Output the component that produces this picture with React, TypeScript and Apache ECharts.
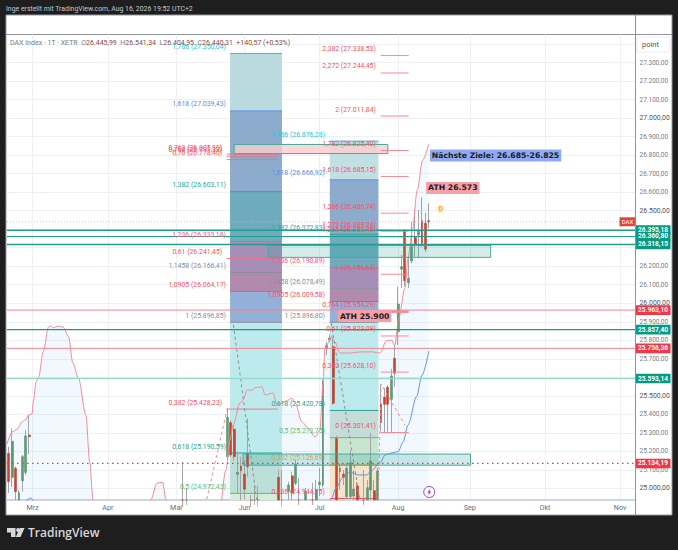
import React, { useEffect, useRef } from "react";
import * as echarts from "echarts";

const FONT = "Roboto";
const RED = "#f7525f";
const BAR_COUNT = 184;

const monthIndex = [7, 29, 49, 69, 91, 114, 135, 157, 179];
const monthLabels = ["Mrz", "Apr", "Mai", "Jun", "Jul", "Aug", "Sep", "Okt", "Nov"];
const priceGrid = [25000, 25100, 25200, 25300, 25400, 25500, 25600, 25700, 25800, 25900, 26000, 26100, 26200, 26300, 26400, 26500, 26600, 26700, 26800, 26900, 27000, 27100, 27200, 27300, 27400];
const priceLabels = [25000, 25100, 25200, 25300, 25400, 25500, 25700, 25800, 25900, 26000, 26100, 26200, 26500, 26600, 26700, 26800, 26900, 27000, 27100, 27200, 27300];
const majorPrices = [25000, 25500, 26000, 26500, 27000];

// [bar index, open, close, low, high]
const candles: number[][] = [
  [0, 25189, 25036, 24974, 25225], [1, 25059, 25254, 25007, 25324], [2, 25108, 24982, 24930, 25117],
  [3, 24900, 24976, 24880, 24990], [4, 25041, 25171, 24982, 25180], [5, 25086, 25283, 25072, 25315],
  [6, 25288, 25279, 25184, 25396], [51, 24900, 24880, 24860, 25144], [52, 24910, 24890, 24860, 25002],
  [64, 25171, 25384, 25153, 25434], [65, 25355, 25180, 25170, 25369], [66, 25319, 25171, 25150, 25340],
  [67, 25076, 25087, 24975, 25198], [68, 25121, 25095, 24930, 25171], [69, 25077, 24995, 24940, 25153],
  [70, 25189, 25117, 25063, 25378], [71, 24900, 24880, 24860, 24964], [72, 24910, 24890, 24860, 25018],
  [73, 24900, 24880, 24860, 25012], [79, 25059, 24890, 24870, 25099], [80, 24900, 24880, 24860, 25099],
  [82, 24982, 25018, 24930, 25036], [83, 25067, 24976, 24930, 25090], [84, 25027, 25131, 25018, 25153],
  [85, 24910, 24900, 24860, 25056], [87, 24900, 24982, 24880, 25002], [89, 24910, 24890, 24870, 25029],
  [90, 24900, 24991, 24880, 25045], [91, 25019, 25034, 24958, 25110], [92, 25018, 25576, 25005, 25590],
  [93, 25753, 25774, 25720, 25790], [94, 25802, 25812, 25790, 25830], [95, 25765, 25459, 25450, 25819],
  [96, 25270, 24890, 24870, 25285], [97, 25090, 25110, 24991, 25135], [98, 25077, 25059, 25018, 25099],
  [99, 24955, 25108, 24940, 25136], [100, 24955, 25138, 24940, 25207], [101, 24958, 24996, 24930, 25099],
  [102, 25012, 24890, 24870, 25034], [104, 24910, 24890, 24870, 25099], [105, 24900, 25003, 24880, 25045],
  [106, 24991, 25148, 24930, 25299], [107, 24987, 24890, 24870, 25045], [108, 24900, 25094, 24880, 25110],
  [109, 25454, 25355, 25310, 25560], [110, 25492, 25454, 25303, 25542], [111, 25546, 25454, 25306, 25558],
  [112, 25481, 25607, 25303, 25645], [113, 25703, 25622, 25549, 25775], [114, 25846, 25996, 25775, 26090],
  [115, 26184, 26198, 26083, 26261], [116, 26392, 26122, 26090, 26401], [117, 26111, 26135, 26083, 26252],
  [118, 26228, 26315, 26216, 26441], [119, 26356, 26315, 26252, 26504], [120, 26369, 26389, 26243, 26504],
  [121, 26446, 26324, 26306, 26573], [122, 26432, 26292, 26278, 26488], [123, 26445.99, 26440.31, 26404.95, 26541.34],
];

const redCurve: number[][] = [
  [-0.5, 25239], [1, 25304], [2.5, 25320], [3.9, 25360], [4.9, 25369], [5.8, 25396], [6.8, 25401], [7.3, 25477],
  [8, 25576], [8.8, 25603], [10.1, 25738], [11.7, 25873], [12.2, 25877], [13.1, 25868], [14.5, 25877], [16, 25870],
  [17.5, 25819], [18.8, 25677], [20.4, 25596], [22.6, 25396], [23.7, 25144], [24.7, 24937], [25.5, 24750], [40, 24750],
  [41.7, 24942], [43.4, 25029], [45.1, 25032], [46, 24942], [47.5, 24750], [61, 24750], [63.6, 25099], [64.8, 25261],
  [65.7, 25342], [67.7, 25461], [68.6, 25477], [69.8, 25531], [71.3, 25531], [72.1, 25544], [74.1, 25549], [75.1, 25504],
  [77.4, 25515], [78.5, 25450], [81.4, 25472], [82.9, 25488], [83.9, 25461], [85.8, 25360], [87.6, 25326], [89.7, 25277],
  [91.1, 25315], [92, 25558], [92.6, 25758], [94.6, 25819], [95.5, 25791], [97, 25731], [99.9, 25731], [102.8, 25737],
  [106.6, 25737], [108.7, 25730], [110.6, 25798], [112.1, 25801], [113, 25771], [114.2, 25920], [116, 26082], [116.9, 26245],
  [118.2, 26396], [119.6, 26612], [121.2, 26774], [123, 26861],
];

const blueCurve: number[][] = [
  [-0.5, 24800], [4.5, 24900], [5.8, 24944], [6.5, 24948], [7.3, 24930], [8, 24800], [92.9, 24800], [94.6, 24948],
  [95.8, 25002], [97.9, 25061], [99.9, 25088], [102.3, 25072], [104.9, 25072], [105.8, 25088], [108.7, 25137], [110.2, 25180],
  [112.5, 25192], [114, 25198], [115.5, 25252], [116.9, 25342], [119.4, 25495], [121, 25612], [123, 25742],
];

const trendRed: number[][][] = [
  [[58, 24942], [63.9, 25423]],
  [[108.2, 24937], [109, 25564], [116, 25342]],
];
const trendGrey: number[][][] = [
  [[65.8, 25883], [72.6, 24937]],
  [[94.4, 25893], [102.8, 24937]],
];

const fibAPrices = [27350.04, 27039.43, 26603.11, 26333.18, 26166.41, 26064.17, 25896.85, 25190.59, 24972.43];
const fibALabels = ["1,786 (27.350,04)", "1,618 (27.039,43)", "1,382 (26.603,11)", "1,236 (26.333,18)", "1,1458 (26.166,41)", "1,0905 (26.064,17)", "1 (25.896,85)", "0,618 (25.190,59)", "0,5 (24.972,43)"];
const fibAColors = ["#26c6da", "#5b8ee6", "#26a69a", "#ef5b85", "#8a8d96", "#f7525f", "#8a8d96", "#1fa58f", "#66bb6a"];
const fibAFills = ["#b9dbdf", "#8dabcd", "#6eabbd", "#a58fb9", "#b18bae", "#93b1d8", "#bdebed", "#bcdfd8", "#d5ecd8"];

const fibBPrices = [26876.28, 26666.92, 26372.83, 26190.89, 26078.49, 26009.58, 25896.8, 25420.78, 25273.75, 25126.69, 24944.75];
const fibBLabels = ["1,786 (26.876,28)", "1,618 (26.666,92)", "1,382 (26.372,83)", "1,236 (26.190,89)", "1,1458 (26.078,49)", "1,0905 (26.009,58)", "1 (25.896,80)", "0,618 (25.420,78)", "0,5 (25.273,75)", "0,382 (25.126,69)", "0,236 (24.944,75)"];
const fibBColors = ["#26c6da", "#5b8ee6", "#26a69a", "#ef5b85", "#8a8d96", "#f7525f", "#8a8d96", "#1fa58f", "#66bb6a", "#d9a63a", "#f7525f"];
const fibBFills = ["#c2e0e3", "#8dabcd", "#6eabbd", "#a58fb9", "#b18bae", "#93b1d8", "#bdebed", "#c5dcd8", "#c8e5d0", "#f5e3cc", "#f5e3cc"];

const fibCPrices = [27338.53, 27244.45, 27011.84, 26825.4, 26685.15, 26486.74, 26389.24, 26358.45, 26156.62, 25954.29, 25823.09, 25628.1, 25301.41];
const fibCLabels = ["2,382 (27.338,53)", "2,272 (27.244,45)", "2 (27.011,84)", "1,782 (26.825,40)", "1,618 (26.685,15)", "1,386 (26.486,74)", "1,272 (26.389,24)", "1,236 (26.358,45)", "1 (26.156,62)", "0,764 (25.954,29)", "0,61 (25.823,09)", "0,382 (25.628,10)", "0 (25.301,41)"];
const fibDPrices = [26805.9, 26791.32, 26776.4, 26241.45, 25428.23];
const fibDLabels = ["0,768 (26.805,90)", "0,764 (26.791,32)", "0,76 (26.778,40)", "0,61 (26.241,45)", "0,382 (25.428,23)"];

const levelPrices = [26395.18, 26360.8, 26318.15, 25963.1, 25857.4, 25756.36, 25593.14, 25134.19];
const levelLabels = ["26.395,18", "26.360,80", "26.318,15", "25.963,10", "25.857,40", "25.756,36", "25.593,14", "25.134,19"];
const levelColors = ["#1f9f8b", "#1f9f8b", "#1f9f8b", "#f7808a", "#159a84", "#f7808a", "#98d9ce", "#f23645"];
const levelTagColors = ["#089981", "#089981", "#089981", "#f23645", "#089981", "#f23645", "#089981", "#f23645"];
const levelWidths = [1.5, 1.1, 1.5, 1, 1.2, 1, 1.5, 1.3];
const lastPrice = 26440.31;

const boxPrices: number[][] = [[26858, 26809], [26312, 26248], [25185, 25125]];
const boxBars: number[][] = [[66, 111], [76, 141.1], [68.6, 135.2]];
const boxFills = ["rgba(252,205,205,0.8)", "rgba(38,166,154,0.2)", "rgba(38,166,154,0.22)"];

const priceMin = 24936.7;
const priceMax = 27452.4;

const hLine = (api: any, x0: number, x1: number, p: number, stroke: string, lineWidth = 1, lineDash?: number[]) => {
  const a = api.coord([x0, p]);
  const b = api.coord([x1, p]);
  return { type: "line", shape: { x1: a[0], y1: a[1], x2: b[0], y2: a[1] }, style: { stroke, lineWidth, lineDash } };
};
const zone = (api: any, x0: number, x1: number, p0: number, p1: number, fill: string, stroke?: string) => {
  const a = api.coord([x0, p0]);
  const b = api.coord([x1, p1]);
  return { type: "rect", shape: { x: a[0], y: a[1], width: b[0] - a[0], height: b[1] - a[1] }, style: { fill, stroke, lineWidth: stroke ? 1 : 0 } };
};
const label = (api: any, x: number, p: number, text: string, fill: string, dy = -6.5, align = "right") => {
  const a = api.coord([x, p]);
  return { type: "text", x: a[0], y: a[1] + dy, style: { text, fill, fontSize: 6.9, fontFamily: FONT, align, verticalAlign: "middle" } };
};
const note = (api: any, x: number, p: number, text: string, backgroundColor: string, fontSize: number) => {
  const a = api.coord([x, p]);
  return {
    type: "text", x: a[0], y: a[1],
    style: { text, fill: "#1a1a1a", fontSize, fontWeight: "bold", fontFamily: "DejaVu Sans", backgroundColor, padding: [2, 2, 2, 2], align: "left", verticalAlign: "middle" },
  };
};
const custom = (name: string, z: number, children: (api: any) => any[], clip = false) => ({
  type: "custom", name, xAxisIndex: 1, yAxisIndex: 0, z, clip, silent: true, data: [[0, 25000]],
  encode: { x: 0, y: 1 },
  renderItem: (_p: any, api: any) => ({ type: "group", children: children(api) }),
});

function buildOption() {
  const bars = Array.from({ length: BAR_COUNT }, (_, i) => String(i));
  const wickData: any[] = bars.map(() => "-");
  const bodyData: any[] = bars.map(() => "-");
  // the candlestick series does not clip its marks to the grid, so bars running below the panel stop at its floor
  const floor = (v: number) => Math.max(v, priceMin);
  candles.forEach(([i, o, c, l, h]) => {
    wickData[i] = [floor(o), floor(c), floor(l), h];
    bodyData[i] = [floor(o), floor(c), floor(Math.min(o, c)), Math.max(o, c)];
  });
  const axisEnd = BAR_COUNT - 0.5;
  return {
    animation: false,
    backgroundColor: "#1e1e1e",
    grid: { left: 7, top: 34.5, width: 628.5, height: 465.5, containLabel: false },
    xAxis: [
      { type: "category", data: bars, show: false, boundaryGap: true },
      {
        type: "value", min: -0.5, max: axisEnd, position: "bottom",
        axisLine: { show: true, lineStyle: { color: "#d1d4dc", width: 2 }, onZero: false },
        axisTick: { show: false, customValues: monthIndex },
        axisLabel: {
          customValues: monthIndex, color: "#6a6d78", fontSize: 7.2, fontFamily: FONT, margin: 4,
          formatter: (v: number) => monthLabels[monthIndex.indexOf(v)] ?? "",
        },
        splitLine: { show: true, lineStyle: { color: "#eef0f5", width: 1 } },
      },
    ],
    yAxis: {
      type: "value", position: "right", min: priceMin, max: priceMax,
      axisLine: { show: false }, axisTick: { show: false, customValues: priceGrid },
      splitLine: { show: true, lineStyle: { color: "#eef0f5", width: 1 } },
      axisLabel: {
        customValues: priceLabels, margin: 4, showMinLabel: true, showMaxLabel: true,
        formatter: (v: number) => {
          const s = `${Math.floor(v / 1000)}.${String(v % 1000).padStart(3, "0")},00`;
          return majorPrices.includes(v) ? `{major|${s}}` : `{minor|${s}}`;
        },
        rich: {
          major: { fontSize: 6.9, color: "#50535e", fontFamily: FONT },
          minor: { fontSize: 6.5, color: "#787b86", fontFamily: FONT },
        },
      },
    },
    graphic: [
      { type: "rect", z: -10, shape: { x: 6, y: 15, width: 666, height: 500 }, style: { fill: "#ffffff", stroke: "#9598a1", lineWidth: 1 } },
      { type: "line", z: -9, shape: { x1: 6, y1: 34.5, x2: 672, y2: 34.5 }, style: { stroke: "#8f929b", lineWidth: 1 } },
      { type: "line", z: 50, shape: { x1: 635.5, y1: 15, x2: 635.5, y2: 515 }, style: { stroke: "#8f929b", lineWidth: 1 } },
      { type: "rect", z: 50, shape: { x: 637, y: 37, width: 33, height: 15, r: 2 }, style: { fill: "#ffffff", stroke: "#eceef2", lineWidth: 1 } },
      { type: "text", z: 51, x: 642, y: 44.5, style: { text: "point", fill: "#50535e", fontSize: 7.5, fontFamily: FONT, verticalAlign: "middle" } },
      { type: "text", z: 51, x: 6, y: 8.5, style: { text: "Inge erstellt mit TradingView.com, Aug 16, 2026 19:52 UTC+2", fill: "#c8c8c8", fontSize: 6.9, fontFamily: FONT, verticalAlign: "middle" } },
      {
        type: "text", z: 51, x: 10, y: 43,
        style: {
          text: "{g|DAX Index · 1T · XETR}  {g|O}{r|26.445,99}  {g|H}{r|26.541,34}  {g|L}{r|26.404,95}  {g|C}{r|26.440,31}  {r|+140,57 (+0,53%)}",
          fontSize: 7, fontFamily: FONT, verticalAlign: "middle",
          rich: { g: { fill: "#787b86", fontSize: 7, fontFamily: FONT }, r: { fill: "#8a4a44", fontSize: 7, fontFamily: FONT } },
        },
      },
      { type: "polygon", z: 51, shape: { points: [[7, 528], [15.5, 528], [15.5, 537], [11, 537], [11, 532.5], [7, 532.5]] }, style: { fill: "#d8d8d8" } },
      { type: "circle", z: 51, shape: { cx: 18, cy: 530, r: 1.9 }, style: { fill: "#d8d8d8" } },
      { type: "polygon", z: 51, shape: { points: [[24.5, 528], [20.5, 537], [15.8, 537], [19.8, 528]] }, style: { fill: "#d8d8d8" } },
      { type: "text", z: 51, x: 28, y: 532.5, style: { text: "TradingView", fill: "#d8d8d8", fontSize: 12, fontWeight: 600, fontFamily: "Open Sans", verticalAlign: "middle" } },
    ],
    series: [
      custom("Kurs-Kanal", 1, (api) => {
        const first = redCurve[0];
        const last = redCurve[redCurve.length - 1];
        const pts = [...redCurve, [last[0], priceMin], [first[0], priceMin]].map((d) => api.coord(d));
        return [{ type: "polygon", shape: { points: pts }, style: { fill: "rgba(33,150,243,0.06)" } }];
      }, true),
      custom("Fib-Zonen", 1, (api) => [
        ...fibAPrices.map((p, i) => zone(api, 64.8, 80, p, fibAPrices[i + 1] ?? priceMin, fibAFills[i])),
        ...fibBPrices.map((p, i) => zone(api, 94, 108.25, p, fibBPrices[i + 1] ?? priceMin, fibBFills[i])),
        ...fibAPrices.map((p, i) => hLine(api, 64.8, 80, p, fibAColors[i])),
        ...fibBPrices.map((p, i) => hLine(api, 94, 108.25, p, fibBColors[i])),
      ], true),
      {
        type: "candlestick", name: "DAX Dochte", xAxisIndex: 0, yAxisIndex: 0, z: 3, barWidth: 1, data: wickData, silent: true,
        itemStyle: { color: "#a2a4aa", color0: "#a2a4aa", borderColor: "#a2a4aa", borderColor0: "#a2a4aa", borderWidth: 1 },
      },
      {
        type: "candlestick", name: "DAX Index", xAxisIndex: 0, yAxisIndex: 0, z: 4, barWidth: 2.4, data: bodyData, silent: true,
        itemStyle: { color: "#5f9c74", color0: "#c8432d", borderColor: "#4f8a63", borderColor0: "#b83a26", borderWidth: 0.5 },
      },
      { type: "line", name: "Obere Linie", xAxisIndex: 1, yAxisIndex: 0, z: 5, data: redCurve, showSymbol: false, silent: true, smooth: 0.3, smoothMonotone: "x", lineStyle: { color: "#f58a93", width: 1 } },
      { type: "line", name: "Untere Linie", xAxisIndex: 1, yAxisIndex: 0, z: 5, data: blueCurve, showSymbol: false, silent: true, smooth: 0.3, smoothMonotone: "x", lineStyle: { color: "#5f92f2", width: 1 } },
      ...trendRed.map((d) => ({ type: "line", xAxisIndex: 1, yAxisIndex: 0, z: 5, data: d, showSymbol: false, silent: true, lineStyle: { color: "#f58a93", width: 1, type: [3, 3] } })),
      ...trendGrey.map((d) => ({ type: "line", xAxisIndex: 1, yAxisIndex: 0, z: 5, data: d, showSymbol: false, silent: true, lineStyle: { color: "#8a8d96", width: 1, type: [3, 3] } })),
      custom("Levels", 6, (api) => [
        ...boxPrices.map((b, i) => zone(api, boxBars[i][0], boxBars[i][1], b[0], b[1], boxFills[i], "#45ab9c")),
        ...fibCPrices.map((p, i) => hLine(api, 108.9, 117.1, p, "#f58a93", i === 9 ? 2.4 : 1)),
        ...fibDPrices.map((p) => hLine(api, 63.8, 78.8, p, "#f0707c", 0.9)),
        hLine(api, -0.5, axisEnd, lastPrice, "#f7a3a9", 0.8, [1, 2]),
        ...levelPrices.map((p, i) => hLine(api, -0.5, axisEnd, p, levelColors[i], levelWidths[i], i === 7 ? [1.5, 3.5] : undefined)),
      ]),
      custom("Beschriftung", 7, (api) => {
        const right = api.coord([axisEnd, lastPrice]);
        const tag = api.coord([124, 24980]);
        return [
          ...fibAPrices.map((p, i) => label(api, 63.6, p, fibALabels[i], fibAColors[i])),
          ...fibBPrices.map((p, i) => label(api, 92.6, p, fibBLabels[i], fibBColors[i])),
          ...fibCPrices.map((p, i) => label(api, 107.5, p, fibCLabels[i], RED)),
          ...fibDPrices.map((p, i) => label(api, 62.5, p, fibDLabels[i], RED)),
          note(api, 123.3, 26798, "Nächste Ziele: 26.685-26.825", "#8fa9f5", 7.7),
          note(api, 122.2, 26623, "ATH 26.573", "#f8a0a8", 7.7),
          note(api, 96.4, 25931, "ATH 25.900", "#f4a0a8", 7.7),
          { type: "circle", shape: { cx: api.coord([126.5, 0])[0], cy: api.coord([0, 26509])[1], r: 4.5 }, style: { fill: "#fff2dc" } },
          { type: "text", x: api.coord([126.5, 0])[0], y: api.coord([0, 26509])[1], style: { text: "D", fill: "#f5a623", fontSize: 7, fontWeight: "bold", fontFamily: FONT, align: "center", verticalAlign: "middle" } },
          { type: "circle", shape: { cx: tag[0] - 3, cy: tag[1], r: 5.5 }, style: { fill: "#ffffff", stroke: "#a13bd0", lineWidth: 1 } },
          { type: "polygon", shape: { points: [[tag[0] - 2, tag[1] - 3.5], [tag[0] - 5, tag[1] + 0.6], [tag[0] - 3.3, tag[1] + 0.6], [tag[0] - 4, tag[1] + 3.5], [tag[0] - 1, tag[1] - 0.6], [tag[0] - 2.7, tag[1] - 0.6]] }, style: { fill: "#a13bd0" } },
          { type: "rect", shape: { x: right[0] - 16, y: right[1] - 4.5, width: 16, height: 9 }, style: { fill: "#e0483c" } },
          { type: "text", x: right[0] - 8, y: right[1], style: { text: "DAX", fill: "#ffffff", fontSize: 6, fontFamily: FONT, align: "center", verticalAlign: "middle" } },
          ...levelPrices.map((p, i) => {
            const a = api.coord([axisEnd, p]);
            return { type: "rect", shape: { x: a[0], y: a[1] - 4.8, width: 35, height: 9.6 }, style: { fill: levelTagColors[i] } };
          }),
          ...levelPrices.map((p, i) => {
            const a = api.coord([axisEnd, p]);
            return { type: "text", x: a[0] + 17.5, y: a[1], style: { text: levelLabels[i], fill: "#ffffff", fontSize: 6.6, fontWeight: "bold", fontFamily: FONT, align: "center", verticalAlign: "middle" } };
          }),
        ];
      }),
    ],
  };
}

export default function App() {
  const ref = useRef<HTMLDivElement>(null);
  useEffect(() => {
    const chart = echarts.init(ref.current!, undefined, { renderer: "svg" });
    chart.setOption(buildOption() as any);
    return () => chart.dispose();
  }, []);
  return <div ref={ref} style={{ position: "absolute", left: 0, top: 0, width: 678, height: 550 }} />;
}
